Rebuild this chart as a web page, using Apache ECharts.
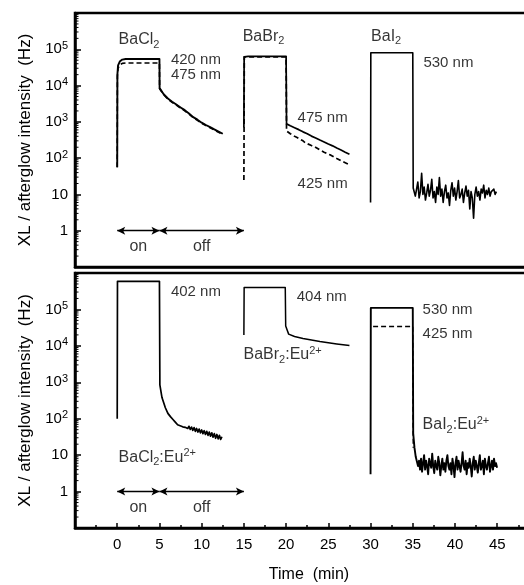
<!DOCTYPE html>
<html><head><meta charset="utf-8">
<script src="https://cdn.jsdelivr.net/npm/echarts@6/dist/echarts.min.js"></script>
<style>html,body{margin:0;padding:0;background:#fff}#c{width:524px;height:585px}</style>
</head><body><div id="c"></div>
<script>
// ---------- DATA (time in min, intensity in Hz) ----------
// Top panel: undoped
const baCl2_420 = [[0,56],[0.02,2e4],[0.1,3.6e4],[0.3,4.6e4],[0.6,5.2e4],[1,5.4e4],[5,5.4e4],[5.02,8.5e3],[5.5,5.8e3],[6,4.4e3],[6.5,3.6e3],[7,3.0e3],[7.5,2.5e3],[8,2.1e3],[8.5,1.7e3],[9,1.35e3],[9.5,1.15e3],[10,950],[10.5,820],[11,720],[11.5,620],[12,540],[12.5,470]];
const baCl2_475 = [[0,56],[0.02,1.8e4],[0.1,3e4],[0.3,3.7e4],[0.6,4.1e4],[1,4.2e4],[5,4.2e4],[5.02,8.2e3],[5.5,5.6e3],[6,4.25e3],[6.5,3.45e3],[7,2.9e3],[7.5,2.4e3],[8,2.0e3],[8.5,1.64e3],[9,1.3e3],[9.5,1.1e3],[10,915],[10.5,790],[11,690],[11.5,595],[12,515],[12.5,450]];
const baBr2_475 = [[15,700],[15.03,6.2e4],[15.5,6.4e4],[20,6.4e4],[20.05,880],[20.5,780],[21,690],[21.5,610],[22,530],[22.5,470],[23,405],[23.5,360],[24,315],[24.5,280],[25,245],[25.5,218],[26,190],[26.5,168],[27,146],[27.5,128]];
const baBr2_425 = [[15,25],[15.05,6.2e4],[20,6.2e4],[20.05,560],[20.5,470],[21,400],[21.3,372],[21.5,335],[22,300],[22.3,262],[22.5,258],[23,222],[23.4,205],[23.5,188],[24,168],[24.5,146],[25,128],[25.3,121],[25.5,110],[26,98],[26.5,85],[27,75],[27.5,66]];
const baI2_530 = [[30,6],[30.03,8e4],[35,8e4],[35.05,15]];
const baI2_530_noiseStart = 35.15, baI2_530_noiseStep = 0.15;
const baI2_530_noise = [15,9,14,22,8,12,38,10,16,7, 11,19,9,13,26,8,12,6,16,10, 29,9,14,6,12,18,8,11,5,13, 21,9,15,7,12,24,8,10,14,6, 11,17,9,13,4,12,8,2.2,10,16, 9,12,7,14,11,18,8,13,10,15, 9,12,11,14,10,12];

// Bottom panel: Eu2+ doped
const baCl2Eu_402 = [[0,100],[0.03,5.9e5],[5,5.9e5],[5.05,850],[5.3,380],[5.7,200],[6,140],[6.3,114],[6.6,95],[6.85,82]];
const baCl2Eu_noiseStart = 7.0, baCl2Eu_noiseStep = 0.15;
const baCl2Eu_noise = [78,68,75,64,71,60,68,58,65,54, 62,51,59,48,57,45,54,43,52,41, 49,39,47,37,45,35,43,33,41,31, 39,29,37,28,35,27,32];
const baBr2Eu_404 = [[15,2e4],[15.03,4e5],[19.9,4e5],[19.95,3.5e4],[20.3,2.1e4],[21,1.8e4],[22,1.6e4],[23,1.45e4],[24,1.32e4],[25,1.22e4],[26,1.13e4],[27.5,1.02e4]];
const baI2Eu_530 = [[30,3],[30.03,1.1e5],[35,1.1e5],[35.05,40],[35.2,16],[35.35,9]];
const baI2Eu_425 = [[30.3,3.4e4],[35,3.4e4],[35.05,16]];
const baI2Eu_noiseStart = 35.5, baI2Eu_noiseStep = 0.12;
const baI2Eu_noise = [9,5,7,4,8,3.5,6,10,4,7, 5,3,8,6,4.5,11,5,3.2,7,5, 4,9,6,2.8,5,8,4,6,3.5,7, 10,5,4,6,3,8,5,2.5,6,9, 4,7,5,3.5,6,12,5,4,7,3, 6,4.5,8,5,2.6,6,9,4,7,5, 3.3,6,10,4,5,7,3,8,5,4, 6,9,3.5,5,7,4,8,5,6,4.5];

// Axis ticks
const xTickStep = 5;
const yDecades = [-1,0,1,2,3,4,5];
const yMinorMantissas = [2,3,4,5,6,7,8,9];
// on/off periods (min)
const onPeriod = [0,5], offPeriod = [5,15];

// ---------- LAYOUT / STYLE ----------
const FF = "'Liberation Sans', Arial, Helvetica, sans-serif";
const xMin = -5, xMax = 49, yMin = 0.1, yMax = 1e6;
const richTxt = {
  n:{fontSize:16, fontFamily:FF, color:'#000', lineHeight:20},
  w:{fontSize:15, fontFamily:FF, color:'#000', lineHeight:20},
  sub:{fontSize:11, fontFamily:FF, color:'#000', lineHeight:8, verticalAlign:'bottom'},
  sup:{fontSize:11, fontFamily:FF, color:'#000', lineHeight:8, verticalAlign:'top'}
};
const annTop = [
  {text:'{n|BaCl}{sub|2}', pos:[0.1,1.8e5]},
  {text:'{w|420 nm}', pos:[6.3,5.1e4]},
  {text:'{w|475 nm}', pos:[6.3,1.95e4]},
  {text:'{n|BaBr}{sub|2}', pos:[14.8,2.2e5]},
  {text:'{w|475 nm}', pos:[21.3,1.28e3]},
  {text:'{w|425 nm}', pos:[21.3,19.4]},
  {text:'{n|BaI}{sub|2}', pos:[30.0,2.2e5]},
  {text:'{w|530 nm}', pos:[36.2,4.2e4]},
  {text:'{n|on}', pos:[2.5,0.356], center:true},
  {text:'{n|off}', pos:[10,0.356], center:true}
];
const annBot = [
  {text:'{w|402 nm}', pos:[6.3,3.0e5]},
  {text:'{n|BaCl}{sub|2}{n|:Eu}{sup|2+}', pos:[0.1,8.4]},
  {text:'{w|404 nm}', pos:[21.2,2.2e5]},
  {text:'{n|BaBr}{sub|2}{n|:Eu}{sup|2+}', pos:[14.9,5.6e3]},
  {text:'{w|530 nm}', pos:[36.1,1.0e5]},
  {text:'{w|425 nm}', pos:[36.1,2.1e4]},
  {text:'{n|BaI}{sub|2}{n|:Eu}{sup|2+}', pos:[36.1,67]},
  {text:'{n|on}', pos:[2.5,0.355], center:true},
  {text:'{n|off}', pos:[10,0.355], center:true}
];

function withNoise(shape, start, step, noise){
  return shape.concat(noise.map((v,i)=>[+(start+i*step).toFixed(3), v]));
}
function line(data, g, width, dashed, z){
  return {type:'line', xAxisIndex:g, yAxisIndex:g, data:data, symbol:'none', showSymbol:false,
    silent:true, animation:false, z:z||3,
    lineStyle:{color:'#000', width:width, type: dashed ? [5,3] : 'solid', join:'round'}};
}
function annSeries(g, anns){
  return {type:'scatter', xAxisIndex:g, yAxisIndex:g, symbolSize:1, silent:true, animation:false,
    itemStyle:{color:'rgba(0,0,0,0)'},
    data: anns.map(a=>({value:a.pos, label:{show:true, position: a.center?'inside':'right', distance:0,
      formatter:a.text, rich:richTxt, color:'#000'}})),
    markLine:{silent:true, animation:false, symbol:['arrow','arrow'], symbolSize:[6,8], precision:4,
      lineStyle:{color:'#000', width:1.3, type:'solid'}, label:{show:false},
      emphasis:{disabled:true},
      data:[[{coord:[onPeriod[0],1]},{coord:[onPeriod[1],1]}],[{coord:[offPeriod[0],1]},{coord:[offPeriod[1],1]}]]}
  };
}
const minorVals = [];
yDecades.forEach(d=>yMinorMantissas.forEach(m=>minorVals.push(m*Math.pow(10,d))));
function minorTicks(g){
  return {type:'custom', xAxisIndex:g, yAxisIndex:g, silent:true, clip:false, animation:false,
    data: minorVals.map(v=>[xMin, v]),
    renderItem:(p, api)=>{ const c = api.coord([api.value(0), api.value(1)]);
      return {type:'line', shape:{x1:c[0], y1:c[1], x2:c[0]+3.5, y2:c[1]}, style:{stroke:'#000', lineWidth:1}}; }};
}
function yLabel(v){
  const e = Math.round(Math.log10(v));
  if (e < 0 || e > 5) return '';
  if (e === 0) return '{b|1}';
  if (e === 1) return '{b|10}';
  return '{b|10}{s|' + e + '}';
}
function yAxis(g){
  return {type:'log', gridIndex:g, logBase:10, min:yMin, max:yMax, splitNumber:7,
    axisLine:{show:true, onZero:false, lineStyle:{color:'#000', width:2.5}},
    axisTick:{show:true, inside:true, length:6, lineStyle:{color:'#000', width:1.5}},
    splitLine:{show:false}, minorSplitLine:{show:false},
    axisLabel:{formatter:yLabel, margin:7, color:'#000',
      rich:{b:{fontSize:15, fontFamily:FF, color:'#000', lineHeight:18}, s:{fontSize:11, fontFamily:FF, color:'#000', lineHeight:8, verticalAlign:'top'}}},
    name:'XL / afterglow intensity  (Hz)', nameLocation:'middle', nameGap:41, nameRotate:90,
    nameTextStyle:{fontSize:17, fontFamily:FF, color:'#000'}};
}

const option = {
  backgroundColor:'#fff', animation:false,
  textStyle:{fontFamily:FF},
  grid:[
    {left:75, width:456, top:13, height:254, show:true, borderColor:'#000', borderWidth:2.5, containLabel:false, outerBoundsMode:'none'},
    {left:75, width:456, top:273, height:255, show:true, borderColor:'#000', borderWidth:2.5, containLabel:false, outerBoundsMode:'none'}
  ],
  xAxis:[
    {type:'value', gridIndex:0, min:xMin, max:xMax, interval:xTickStep,
      axisLine:{show:true, onZero:false, lineStyle:{color:'#000', width:2.5}}, axisTick:{show:false}, axisLabel:{show:false}, splitLine:{show:false}},
    {type:'value', gridIndex:1, min:xMin, max:xMax, interval:xTickStep,
      axisLine:{show:true, onZero:false, lineStyle:{color:'#000', width:2.5}},
      axisTick:{show:true, inside:true, length:5, lineStyle:{color:'#000', width:1.5}},
      minorTick:{show:true, splitNumber:2, length:3, lineStyle:{color:'#000', width:1.5}},
      splitLine:{show:false},
      axisLabel:{formatter:v=> (v>=0 && v%5===0) ? String(v) : '', fontSize:15, color:'#000', margin:9, fontFamily:FF},
      name:'Time  (min)', nameLocation:'middle', nameGap:39,
      nameTextStyle:{fontSize:16, color:'#000', fontFamily:FF, padding:[0,0,0,12]}}
  ],
  yAxis:[yAxis(0), yAxis(1)],
  series:[
    line(baCl2_475, 0, 1.6, true),
    line(baCl2_420, 0, 1.9, false),
    line(baBr2_425, 0, 1.7, true),
    line(baBr2_475, 0, 1.7, false),
    line(withNoise(baI2_530, baI2_530_noiseStart, baI2_530_noiseStep, baI2_530_noise), 0, 1.6, false),
    line(withNoise(baCl2Eu_402, baCl2Eu_noiseStart, baCl2Eu_noiseStep, baCl2Eu_noise), 1, 1.7, false),
    line(baBr2Eu_404, 1, 1.5, false),
    line(baI2Eu_425, 1, 1.4, true),
    line(withNoise(baI2Eu_530, baI2Eu_noiseStart, baI2Eu_noiseStep, baI2Eu_noise), 1, 1.9, false),
    minorTicks(0), minorTicks(1),
    annSeries(0, annTop), annSeries(1, annBot)
  ]
};
const chart = echarts.init(document.getElementById('c'), null, {renderer:'canvas'});
chart.setOption(option);
</script></body></html>
